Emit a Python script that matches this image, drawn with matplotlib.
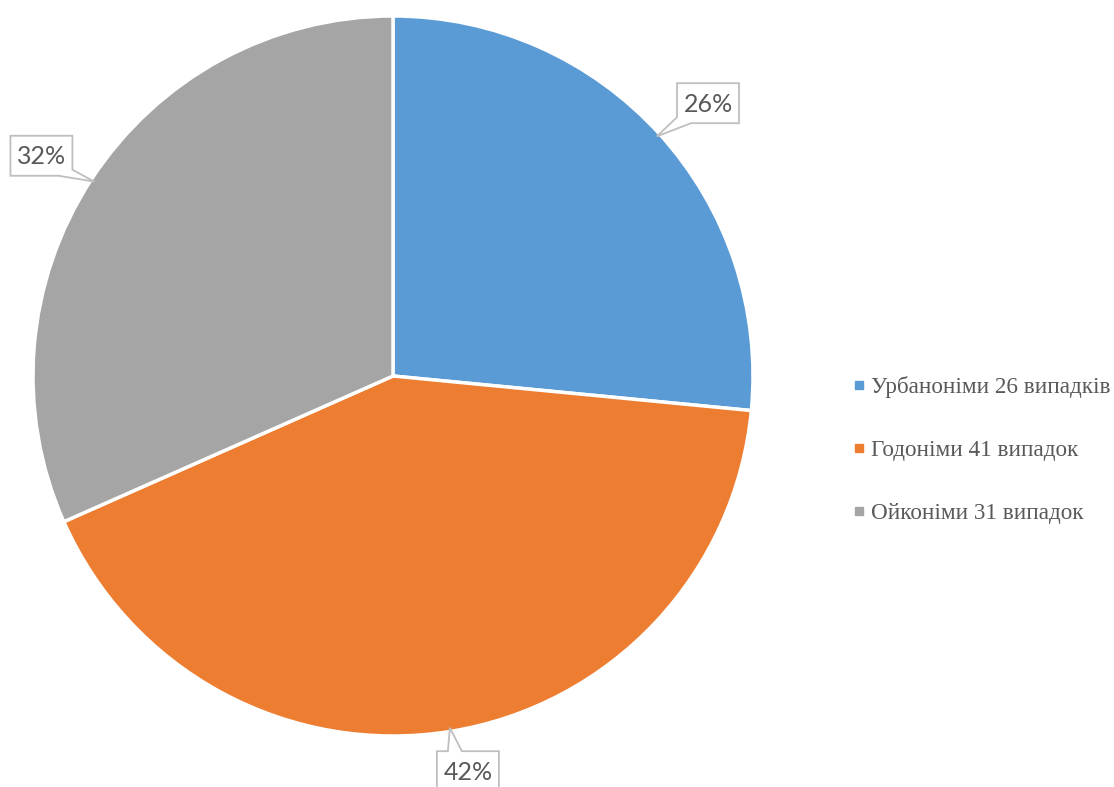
import numpy as np
import matplotlib.pyplot as plt
from matplotlib.patches import Polygon

categories = ["Урбаноніми", "Годоніми", "Ойконіми"]
counts = [26, 41, 31]
legend_labels = ["Урбаноніми 26 випадків", "Годоніми 41 випадок", "Ойконіми 31 випадок"]
pct_labels = ["26%", "42%", "32%"]
colors = ["#5B9BD5", "#ED7D31", "#A5A5A5"]

W, H = 1114, 787
fig = plt.figure(figsize=(W / 100, H / 100), dpi=100)
ax = fig.add_axes([0, 0, 1, 1])

cx, cy, R = 393, H - 376, 360
ax.pie(counts, colors=colors, startangle=90, counterclock=False,
       center=(cx, cy), radius=R, frame=True,
       wedgeprops=dict(edgecolor="white", linewidth=2.5))
ax.set_xlim(0, W)
ax.set_ylim(0, H)
ax.set_aspect("equal")
ax.axis("off")


def callout(tx, ty, bx, by, text, hw=31, hh=20, base=14):
    left, right, top, bot = bx - hw, bx + hw, by + hh, by - hh
    if ty < bot:
        # pointer hangs off the bottom edge, near the corner facing the tip
        if tx < bx:
            pts = [(left, top), (right, top), (right, bot), (left + base, bot),
                   (tx, ty), (left, bot + 6)]
        else:
            pts = [(left, top), (right, top), (right, bot + 6), (tx, ty),
                   (right - base, bot), (left, bot)]
    else:
        px = left + 11
        pts = [(left, top), (px, top), (tx, ty), (px + base, top), (right, top),
               (right, bot), (left, bot)]
    ax.add_patch(Polygon(pts, closed=True, fc="white", ec="#BFBFBF", lw=1.3, zorder=5))
    ax.text(bx, by - 1, text, ha="center", va="center", fontsize=18, color="#595959",
            family="Lato", zorder=6)


total = sum(counts)
start = 90.0
for v, lab in zip(counts, pct_labels):
    sweep = v / total * 360
    mid = np.deg2rad(start - sweep / 2)
    start -= sweep
    tx, ty = cx + R * 0.99 * np.cos(mid), cy + R * 0.99 * np.sin(mid)
    rf = 1.112 if np.sin(mid) < -0.5 else 1.152
    bx, by = cx + R * rf * np.cos(mid), cy + R * rf * np.sin(mid)
    if np.sin(mid) > 0:
        by -= 6
        bx += 8 if np.cos(mid) > 0 else -4
    else:
        bx += 11
    callout(tx, ty, bx, by, lab)

handles = [plt.Line2D([], [], marker="s", linestyle="none", markersize=5.5,
                      markerfacecolor=c, markeredgecolor=c) for c in colors]
leg = ax.legend(handles, legend_labels, loc="center left",
                bbox_to_anchor=(852 / W, 1 - 450 / H), frameon=False,
                prop=dict(family="Liberation Serif", size=16.7),
                labelspacing=1.8, handlelength=0.6, handletextpad=0.2,
                borderpad=0, borderaxespad=0)
for t in leg.get_texts():
    t.set_color("#595959")

fig.savefig("out.png", dpi=100)
